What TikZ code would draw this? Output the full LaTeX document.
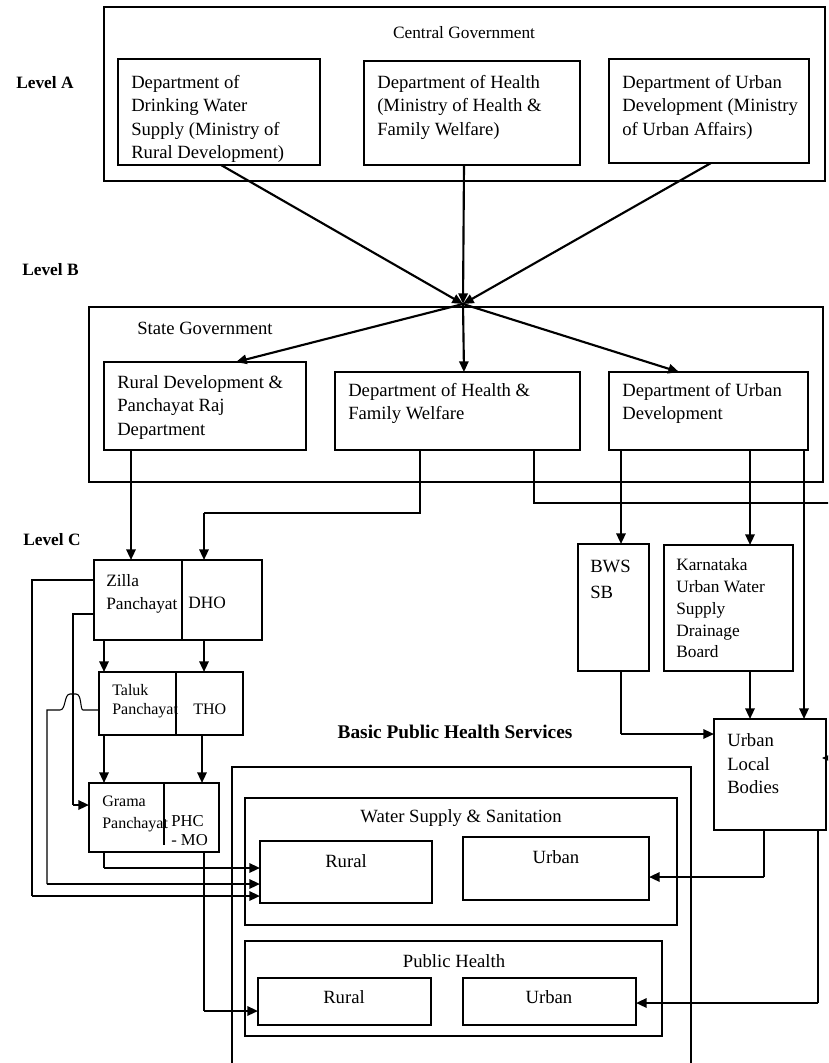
\documentclass[tikz,border=0pt]{standalone}
\usepackage{fontspec}
\setmainfont{Liberation Serif}
\usetikzlibrary{arrows.meta,fit,calc}
\begin{document}
\begin{tikzpicture}[x=0.75pt,y=-0.75pt,
  box/.style={draw,line width=0.9pt,inner sep=0pt,outer sep=0pt},
  thinl/.style={line width=0.8pt},
  arr/.style={line width=1.6pt,-{Triangle[length=8pt,width=7pt]}},
  tarr/.style={line width=0.8pt,-{Triangle[length=8pt,width=7pt]}},
  txt/.style={anchor=north west,inner sep=0pt,align=left,font=\fontsize{14}{17.5}\selectfont},
  ctxt/.style={inner sep=0pt,font=\fontsize{14}{17.5}\selectfont},
  lvl/.style={anchor=west,inner sep=0pt,font=\fontsize{13}{15}\selectfont\bfseries}]
\useasboundingbox (0,0) rectangle (828,1063);
\clip (0,0) rectangle (828,1063);

% ---------- Level labels ----------
\node[lvl] (lvla) at (16,83) {Level A};
\node[lvl] (lvlb) at (22,270) {Level B};
\node[lvl] (lvlc) at (23,540) {Level C};

% ---------- Central government ----------
\node[box,fit={(104,7)(825,181)}] (central) {};
\node[ctxt,font=\fontsize{13}{15}\selectfont] (centralt) at (464,33) {Central Government};
\node[box,fit={(118,59)(320,165)}] (a1) {};
\node[box,fit={(364,61)(580,165)}] (a2) {};
\node[box,fit={(609,59)(809,163)}] (a3) {};
\node[txt] (a1t) at (131,72) {\strut Department of\\Drinking Water\\Supply (Ministry of\\Rural Development)};
\node[txt] (a2t) at (377,72) {\strut Department of Health\\(Ministry of Health \&\\Family Welfare)};
\node[txt] (a3t) at (622,72) {\strut Department of Urban\\Development (Ministry\\of Urban Affairs)};

% ---------- State government ----------
\node[box,fit={(89,307)(823,482)}] (state) {};
\node[ctxt,anchor=west] (statet) at (137,328) {State Government};
\node[box,fit={(104,362)(306,450)}] (b1) {};
\node[box,fit={(335,372)(580,450)}] (b2) {};
\node[box,fit={(609,372)(808,450)}] (b3) {};
\node[txt] (b1t) at (117,372) {\strut Rural Development \&\\Panchayat Raj\\Department};
\node[txt] (b2t) at (348,380) {\strut Department of Health \&\\Family Welfare};
\node[txt] (b3t) at (622,380) {\strut Department of Urban\\Development};

% ---------- hub ----------
\coordinate (hub) at (463,304);
\draw[arr] (221,0 |- a1.south) -- (hub);
\draw[arr] (464,0 |- a2.south) -- (hub);
\draw[arr] (711,0 |- a3.south) -- (hub);
\draw[arr] (hub) -- (236,0 |- b1.north);
\draw[arr] (hub) -- (464,0 |- b2.north);
\draw[arr] (hub) -- (679,0 |- b3.north);

% ---------- Level C: district chain ----------
\node[box,fit={(94,560)(262,640)}] (zilla) {};
\draw[thinl] (182,0 |- zilla.north) -- (182,0 |- zilla.south);
\node[txt,font=\fontsize{13}{17.25}\selectfont] (zillat) at (106,570) {\strut Zilla\\Panchayat};
\node[ctxt,anchor=west,font=\fontsize{13}{15}\selectfont] (dho) at (188,603) {DHO};

\node[box,fit={(99,672)(243,735)}] (taluk) {};
\draw[thinl] (176,0 |- taluk.north) -- (176,0 |- taluk.south);
\node[txt,font=\fontsize{12}{14.25}\selectfont] (talukt) at (112,682) {\strut Taluk\\Panchayat};
\node[ctxt,anchor=west,font=\fontsize{12}{14}\selectfont] (tho) at (193,709) {THO};

\node[box,fit={(89,783)(219,852)}] (grama) {};
\draw[thinl] (164,0 |- grama.north) -- (164,845);
\node[txt,font=\fontsize{12}{16.5}\selectfont] (gramat) at (102,791) {\strut Grama\\Panchayat};
\node[txt,font=\fontsize{12.5}{14.25}\selectfont] (phct) at (171,813) {\strut PHC\\- MO};

% ---------- Urban bodies ----------
\node[box,fit={(578,544)(649,671)}] (bwssb) {};
\node[txt,font=\fontsize{14}{19.5}\selectfont] (bwssbt) at (590,554) {\strut BWS\\SB};
\node[box,fit={(664,545)(793,671)}] (kuwsdb) {};
\node[txt,font=\fontsize{13}{16.3}\selectfont] (kuwsdbt) at (676,555.5) {\strut Karnataka\\Urban Water\\Supply\\Drainage\\Board};
\node[box,fit={(714,719)(826,830)}] (ulb) {};
\node[txt,font=\fontsize{14}{17.6}\selectfont] (ulbt) at (727,730) {\strut Urban\\Local\\Bodies};

% ---------- Basic public health services ----------
\node[ctxt,font=\fontsize{14.5}{17}\selectfont\bfseries] (bphst) at (455,732) {Basic Public Health Services};
\node[box,fit={(232,767)(691,1085)}] (bphs) {};
\node[box,fit={(245,798)(677,925)}] (ws) {};
\node[ctxt] (wst) at (461,818) {Water Supply \& Sanitation};
\node[box,fit={(260,841)(432,903)}] (wsrural) {};
\node[ctxt] (wsruralt) at (346,861) {Rural};
\node[box,fit={(463,837)(649,900)}] (wsurban) {};
\node[ctxt] (wsurbant) at (556,857) {Urban};
\node[box,fit={(245,941)(662,1036)}] (ph) {};
\node[ctxt] (pht) at (454,961) {Public Health};
\node[box,fit={(258,978)(431,1025)}] (phrural) {};
\node[ctxt] (phruralt) at (344,997) {Rural};
\node[box,fit={(463,978)(636,1025)}] (phurban) {};
\node[ctxt] (phurbant) at (549,997) {Urban};

% ---------- connectors from state departments ----------
\draw[arr] (131,0 |- b1.south) -- (131,0 |- zilla.north);
\draw[thinl] (420,0 |- b2.south) -- (420,513) -- (204,513);
\draw[arr] (204,513) -- (204,0 |- zilla.north);
\draw[thinl] (534,0 |- b2.south) -- (534,503) -- (845,503) -- (845,758);
\draw[tarr] (845,758) -- ([xshift=-3pt]ulb.east |- 0,758);
\draw[arr] (621,0 |- b3.south) -- (621,0 |- bwssb.north);
\draw[arr] (750,0 |- b3.south) -- (750,0 |- kuwsdb.north);
\draw[arr] (804,0 |- b3.south) -- (804,0 |- ulb.north);
\draw[arr] (750,0 |- kuwsdb.south) -- (750,0 |- ulb.north);
\draw[thinl] (621,0 |- bwssb.south) -- (621,734);
\draw[arr] (621,734) -- (ulb.west |- 0,734);

% ---------- district chain arrows ----------
\draw[arr] (104,0 |- zilla.south) -- (104,0 |- taluk.north);
\draw[arr] (204,0 |- zilla.south) -- (204,0 |- taluk.north);
\draw[arr] (104,0 |- taluk.south) -- (104,0 |- grama.north);
\draw[arr] (202,0 |- taluk.south) -- (202,0 |- grama.north);

% ---------- left loops ----------
\draw[thinl] (zilla.west |- 0,580) -- (32,580) -- (32,896);
\draw[arr] (32,896) -- (wsrural.west |- 0,896);
\draw[thinl] (zilla.west |- 0,614) -- (73,614) -- (73,805);
\draw[arr] (73,805) -- (grama.west |- 0,805);
\draw[thinl] (taluk.west |- 0,710) -- (83,710)
   .. controls (80,710) and (82,694) .. (76,694) -- (70,694)
   .. controls (64,694) and (66,710) .. (60,710) -- (47,710) -- (47,884);
\draw[arr] (47,884) -- (wsrural.west |- 0,884);
\draw[thinl] (104,0 |- grama.south) -- (104,868);
\draw[arr] (104,868) -- (wsrural.west |- 0,868);
\draw[thinl] (204,0 |- grama.south) -- (204,1011);
\draw[arr] (204,1011) -- (phrural.west |- 0,1011);

% ---------- urban local bodies to services ----------
\draw[thinl] (764,0 |- ulb.south) -- (764,877);
\draw[arr] (764,877) -- (wsurban.east |- 0,877);
\draw[thinl] (818,0 |- ulb.south) -- (818,1003);
\draw[arr] (818,1003) -- (phurban.east |- 0,1003);
\end{tikzpicture}
\end{document}
